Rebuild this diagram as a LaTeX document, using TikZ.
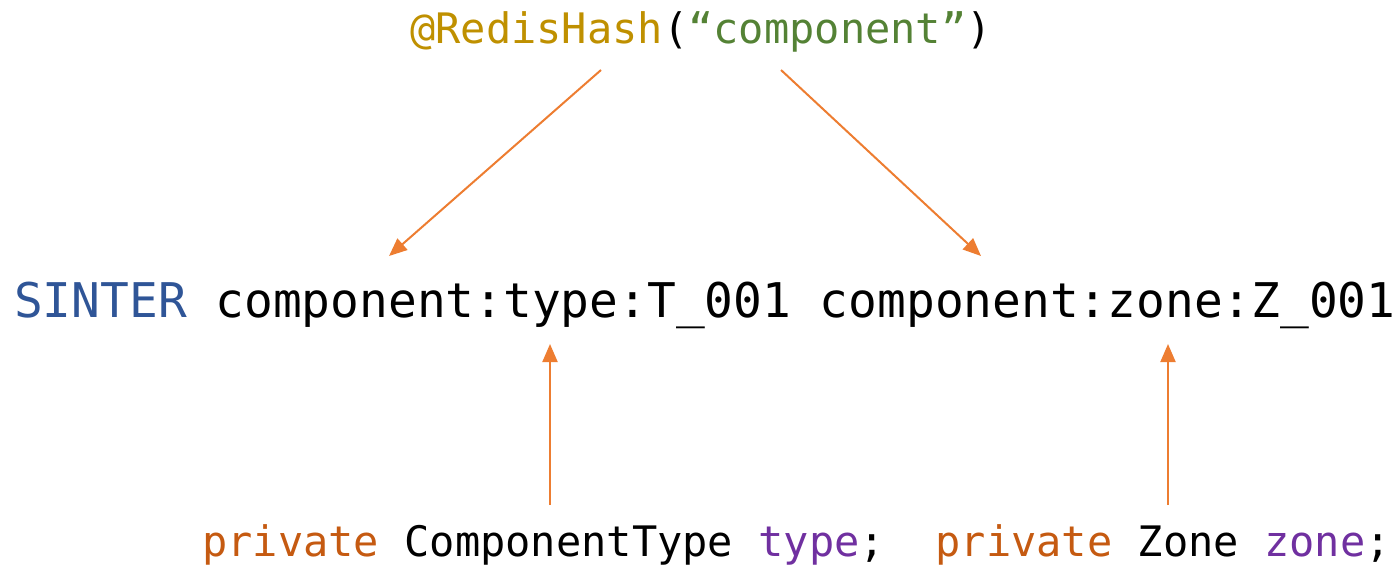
\documentclass[tikz,border=0pt]{standalone}
\usepackage{fontspec}
\usepackage{xcolor}
\usetikzlibrary{arrows.meta, positioning}
\newfontfamily\codefont{DejaVu Sans Mono}
\definecolor{annogold}{HTML}{BF9000}
\definecolor{strgreen}{HTML}{548235}
\definecolor{cmdblue}{HTML}{2F5597}
\definecolor{kwdorange}{HTML}{C55A11}
\definecolor{varpurple}{HTML}{7030A0}
\definecolor{linkorange}{HTML}{ED7D31}

\begin{document}
\begin{tikzpicture}[x=1pt,y=-1pt,
	code/.style={anchor=base west,inner sep=0pt,font=\codefont\fontsize{42}{50}\selectfont},
	cmdline/.style={code,font=\codefont\fontsize{47.8}{56}\selectfont},
	link/.style={draw=linkorange,line width=2pt,-{Triangle[length=18pt,width=15pt]}}]
	\useasboundingbox (0,0) rectangle (1399,566);
	% annotation, command, fields
	\node[code] (redis) at (410,43)
	{\textcolor{annogold}{@RedisHash}(\textcolor{strgreen}{“component”})};
	\node[cmdline] (sinter) at (14,317)
	{\textcolor{cmdblue}{SINTER} component:type:T\_001 component:zone:Z\_001};
	\node[code] (fields) at (202,556)
	{\textcolor{kwdorange}{private} ComponentType \textcolor{varpurple}{type};\ \ \textcolor{kwdorange}{private} Zone \textcolor{varpurple}{zone};};
	% arrow ends
	\coordinate (hashL) at (601,70);
	\coordinate (hashR) at (781,70);
	\coordinate (typekey) at (389,256);
	\coordinate (zonekey) at (981,256);
	\coordinate (typeup) at (550,344);
	\coordinate (zoneup) at (1168,344);
	\coordinate (typefield) at (550,505);
	\coordinate (zonefield) at (1168,505);
	\draw[link] (hashL) -- (typekey);
	\draw[link] (hashR) -- (zonekey);
	\draw[link] (typefield) -- (typeup);
	\draw[link] (zonefield) -- (zoneup);
\end{tikzpicture}
\end{document}
